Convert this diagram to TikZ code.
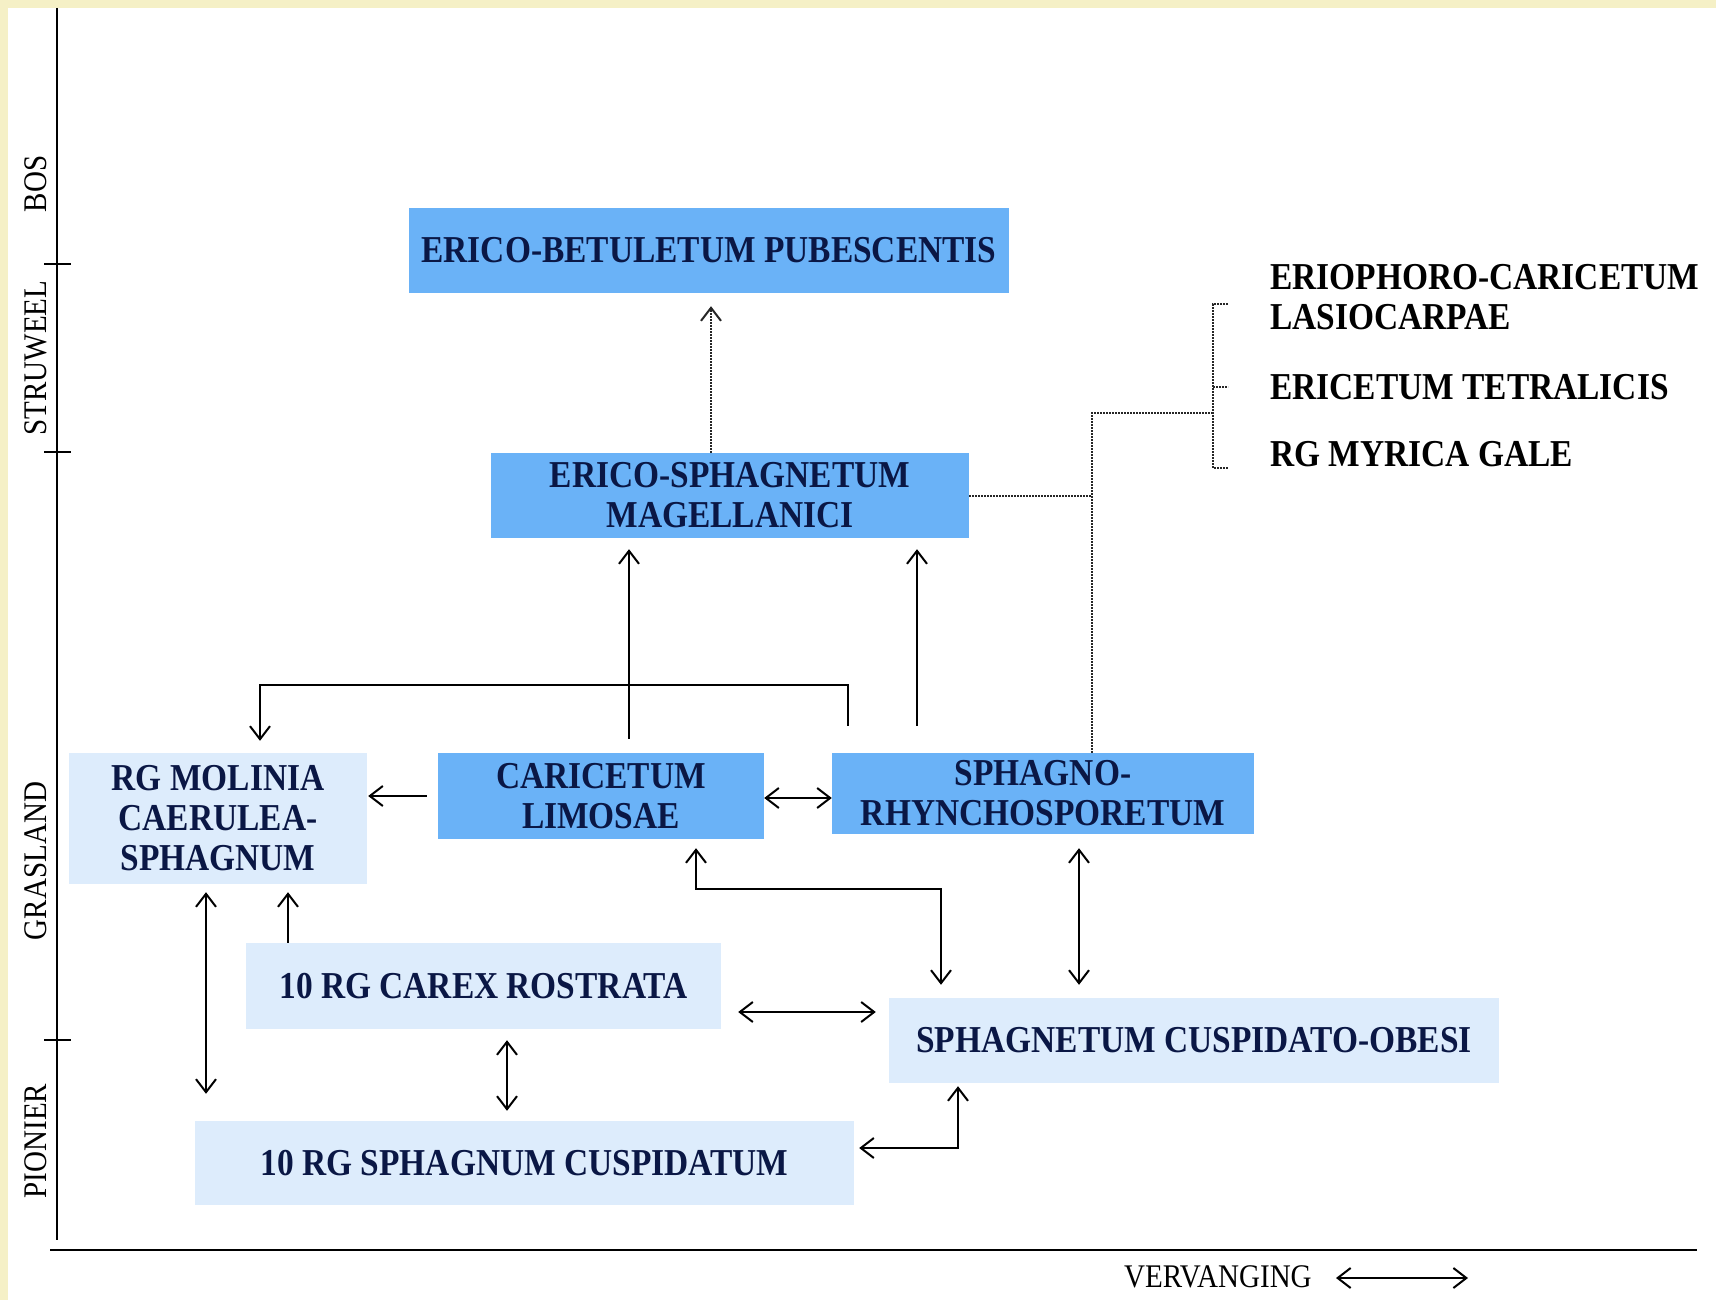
\documentclass[tikz,border=0pt]{standalone}
\usepackage{fontspec}
\setmainfont{Liberation Serif}[FakeStretch=0.88]
\usetikzlibrary{arrows.meta}
\definecolor{cream}{HTML}{F5F0C6}
\definecolor{darkbox}{HTML}{6AB2F7}
\definecolor{lightbox}{HTML}{DDECFC}
\definecolor{navy}{HTML}{0A1745}
\newcommand\bxfont{\fontsize{38}{40}\selectfont\bfseries}
\newcommand\axfont{\fontsize{33}{36}\selectfont}
\begin{document}
\begin{tikzpicture}[x=1pt,y=-1pt,
  box/.style={inner sep=0pt, align=center, font=\bxfont, text=navy},
  dkbox/.style={box, fill=darkbox},
  ltbox/.style={box, fill=lightbox},
  tip/.tip={Straight Barb[length=13pt,width=20pt,line width=2pt]},
  arr/.style={line width=2pt, black, -tip},
  dblarr/.style={line width=2pt, black, tip-tip},
  dotl/.style={line width=2.4pt, black!85, dash pattern=on 1.6pt off 1.4pt},
  axl/.style={line width=2.5pt, black},
  lbl/.style={font=\axfont, rotate=90, inner sep=0pt},
  lst/.style={font=\bxfont, anchor=west, align=left, inner sep=0pt, text=black}
]
\useasboundingbox (0,0) rectangle (1716,1300);
\fill[white] (0,0) rectangle (1716,1300);
\fill[cream] (0,0) rectangle (8,1300);
\fill[cream] (0,0) rectangle (1716,8);

% axes
\coordinate (ytop) at (57,8);
\coordinate (ybot) at (57,1240);
\coordinate (xl) at (50,1250);
\coordinate (xr) at (1697,1250);
\draw[axl] (ytop) -- (ybot);
\draw[axl] (xl) -- (xr);
\foreach \ty in {264,452,1040} \draw[line width=2pt] (44,\ty) -- (71,\ty);
\node[lbl] (bos) at (36,184) {BOS};
\node[lbl] (struweel) at (36,358) {STRUWEEL};
\node[lbl] (grasland) at (36,861) {GRASLAND};
\node[lbl] (pionier) at (36,1141) {PIONIER};
\node[font=\axfont, anchor=west, inner sep=0pt] (verv) at (1124,1277) {VERVANGING};
\coordinate (va) at (1336,1278);
\coordinate (vb) at (1468,1278);
\draw[dblarr] (va) -- (vb);

% boxes
\node[dkbox, minimum width=600, minimum height=85] (betul) at (709,250.5) {ERICO-BETULETUM PUBESCENTIS};
\node[dkbox, minimum width=478, minimum height=85] (ericosph) at (730,495.5) {ERICO-SPHAGNETUM\\MAGELLANICI};
\node[dkbox, minimum width=326, minimum height=86] (caric) at (601,796) {CARICETUM\\LIMOSAE};
\node[dkbox, minimum width=422, minimum height=81] (sphrhyn) at (1043,793.5) {SPHAGNO-\\RHYNCHOSPORETUM};
\node[ltbox, minimum width=298, minimum height=131] (molinia) at (218,818.5) {RG MOLINIA\\CAERULEA-\\SPHAGNUM};
\node[ltbox, minimum width=475, minimum height=86] (carex) at (483.5,986) {10 RG CAREX ROSTRATA};
\node[ltbox, minimum width=610, minimum height=85] (cuspob) at (1194,1040.5) {SPHAGNETUM CUSPIDATO-OBESI};
\node[ltbox, minimum width=659, minimum height=84] (sphcusp) at (524.5,1163) {10 RG SPHAGNUM CUSPIDATUM};

% list on the right
\node[lst] (erio) at (1270,297) {ERIOPHORO-CARICETUM\\LASIOCARPAE};
\node[lst] (erica) at (1270,387) {ERICETUM TETRALICIS};
\node[lst] (myrica) at (1270,454) {RG MYRICA GALE};

% dotted connectors
\draw[dotl, -tip, shorten >=13pt] (ericosph.north -| 711,0) -- (betul.south -| 711,0);
\coordinate (j0) at (1092,496);
\coordinate (j1) at (1092,413);
\coordinate (j2) at (1213,413);
\coordinate (b1) at (1213,304);
\coordinate (b3) at (1213,468);
\draw[dotl] (ericosph.east |- j0) -- (j0);
\draw[dotl] (sphrhyn.north -| j1) -- (j1) -- (j2);
\draw[dotl] ([xshift=-42pt]erio.west |- b1) -- (b1) -- (b3) -- ([xshift=-42pt]myrica.west |- b3);
\draw[dotl] (j2 |- erica.west) -- ([xshift=-42pt]erica.west);

% solid connectors
\draw[arr, shorten <=14pt, shorten >=11pt] (caric.north -| 629,0) -- (ericosph.south -| 629,0);
\draw[arr, shorten <=27pt, shorten >=11pt] (sphrhyn.north -| 917,0) -- (ericosph.south -| 917,0);
\coordinate (bk) at (260,685);
\draw[arr, shorten <=27pt, shorten >=12pt] (sphrhyn.north -| 848,0) |- (bk) -- (molinia.north -| bk);
\draw[arr, shorten <=11pt, shorten >=1pt] (caric.west |- 0,796) -- (molinia.east |- 0,796);
\draw[dblarr] (caric.east |- 0,798) -- (sphrhyn.west |- 0,798);
\coordinate (gk) at (941,889);
\draw[dblarr, shorten <=9pt, shorten >=13pt] (caric.south -| 696,0) |- (gk) -- (cuspob.north -| gk);
\draw[dblarr, shorten <=14pt, shorten >=13pt] (sphrhyn.south -| 1079,0) -- (cuspob.north -| 1079,0);
\draw[dblarr, shorten <=8pt, shorten >=27pt] (molinia.south -| 206,0) -- (sphcusp.north -| 206,0);
\draw[arr, shorten >=8pt] (carex.north -| 288,0) -- (molinia.south -| 288,0);
\draw[dblarr, shorten <=17pt, shorten >=13pt] (carex.east |- 0,1012) -- (cuspob.west |- 0,1012);
\draw[dblarr, shorten <=11pt, shorten >=10pt] (carex.south -| 507,0) -- (sphcusp.north -| 507,0);
\coordinate (mk) at (958,1148);
\draw[dblarr, shorten <=5pt, shorten >=3pt] (sphcusp.east |- mk) -- (mk) -- (cuspob.south -| mk);
\end{tikzpicture}
\end{document}
